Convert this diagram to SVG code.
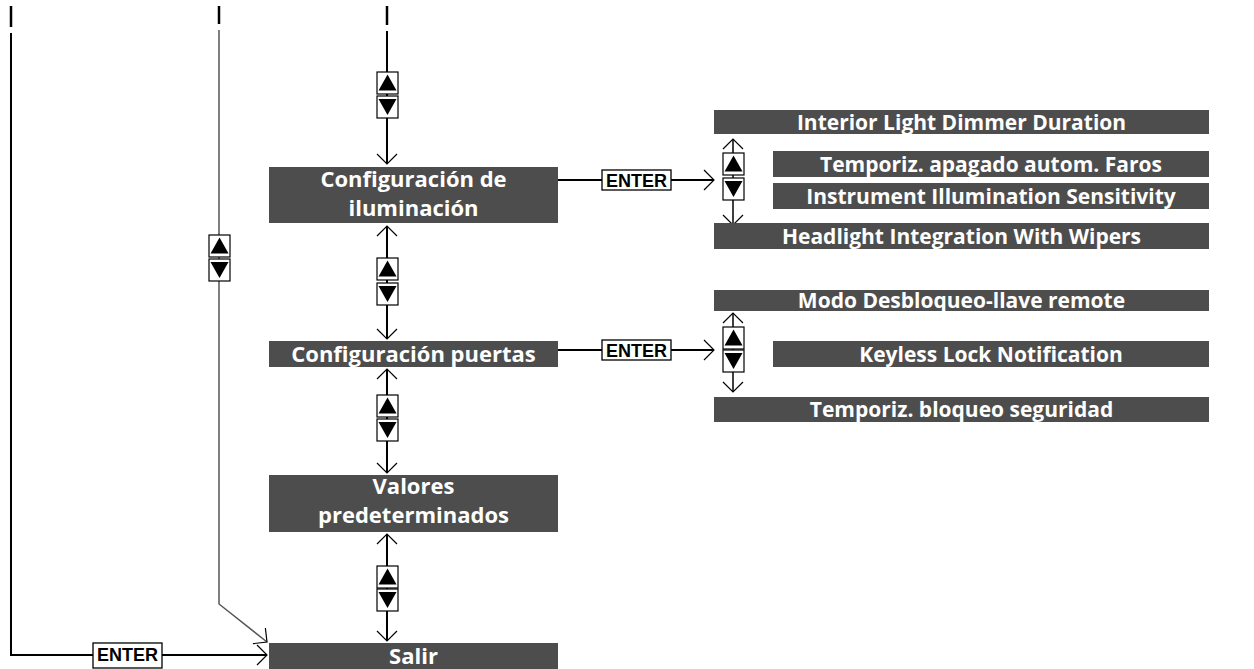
<svg xmlns="http://www.w3.org/2000/svg" width="1254" height="669" viewBox="0 0 1254 669">
<style>
.box{fill:#4d4d4d}
.lbl{font-family:"Open Sans","Noto Sans",sans-serif;font-weight:bold;font-size:22px;fill:#fff;text-anchor:middle}
.lr{font-size:21px}
.ent{fill:#fff;stroke:#000;stroke-width:1.3}
.entt{font-family:"Liberation Sans",Arial,sans-serif;font-weight:bold;font-size:18px;fill:#000;text-anchor:middle}
.ln{fill:none;stroke:#000;stroke-width:2}
.gl{fill:none;stroke:#555;stroke-width:1.5}
.stub{stroke:#000;stroke-width:2.5}
</style>
<defs>
<marker id="ah" markerUnits="userSpaceOnUse" markerWidth="24" markerHeight="24" viewBox="-12 -12 24 24" refX="0" refY="0" orient="auto-start-reverse">
<path d="M-10,-10 L0,0 L-10,10" fill="none" stroke="#000" stroke-width="1.2"/>
</marker>
<g id="up"><rect x="0" y="0" width="21" height="22" fill="#fff" stroke="#000" stroke-width="1.2"/><polygon points="1.5,18.5 19.5,18.5 10.5,2.5" fill="#000"/></g>
<g id="dn"><rect x="0" y="0" width="21" height="22" fill="#fff" stroke="#000" stroke-width="1.2"/><polygon points="1.5,3 19.5,3 10.5,19" fill="#000"/></g>
</defs>

<g id="connectors">
<line class="stub" x1="11" y1="6" x2="11" y2="27"/>
<line class="stub" x1="219" y1="6" x2="219" y2="24"/>
<line class="stub" x1="387" y1="6" x2="387" y2="25"/>
<path class="ln" d="M11,33 L11,655 L93,655"/>
<path class="ln" d="M162,655 L267,655" marker-end="url(#ah)"/>
<path class="gl" d="M219,30 L219,604 L267,642" marker-end="url(#ah)"/>
<path class="ln" d="M387,31 L387,164" marker-end="url(#ah)"/>
<path class="ln" d="M387,226 L387,339" marker-start="url(#ah)" marker-end="url(#ah)"/>
<path class="ln" d="M387,369 L387,473" marker-start="url(#ah)" marker-end="url(#ah)"/>
<path class="ln" d="M387,534 L387,641" marker-start="url(#ah)" marker-end="url(#ah)"/>
<path class="ln" d="M558,180 L602,180"/>
<path class="ln" d="M671,180 L714,180" marker-end="url(#ah)"/>
<path class="ln" d="M558,350 L602,350"/>
<path class="ln" d="M671,350 L714,350" marker-end="url(#ah)"/>
<path class="ln" style="stroke-width:1.5" d="M733,139 L733,225" marker-start="url(#ah)" marker-end="url(#ah)"/>
<path class="ln" style="stroke-width:1.5" d="M733,313 L733,392" marker-start="url(#ah)" marker-end="url(#ah)"/>
<use href="#up" x="377" y="72"/><use href="#dn" x="377" y="96"/>
<use href="#up" x="377" y="258"/><use href="#dn" x="377" y="283"/>
<use href="#up" x="377" y="395"/><use href="#dn" x="377" y="419"/>
<use href="#up" x="377" y="566"/><use href="#dn" x="377" y="589"/>
<use href="#up" x="209" y="235"/><use href="#dn" x="209" y="259"/>
<use href="#up" x="723" y="153"/><use href="#dn" x="723" y="178"/>
<use href="#up" x="723" y="327"/><use href="#dn" x="723" y="350"/>
<rect class="ent" x="602" y="170" width="69" height="20"/><text class="entt" x="636.5" y="186.5">ENTER</text>
<rect class="ent" x="602" y="340" width="69" height="20"/><text class="entt" x="636.5" y="356.5">ENTER</text>
<rect class="ent" x="93" y="643" width="69" height="25"/><text class="entt" x="127.5" y="661">ENTER</text>
</g>

<g id="n-ilum"><rect class="box" x="269" y="167" width="289" height="56"/><text class="lbl" x="413.5" y="187">Configuración de</text><text class="lbl" x="413.5" y="216">iluminación</text></g>
<g id="n-puertas"><rect class="box" x="269" y="341" width="289" height="26"/><text class="lbl" x="413.5" y="362">Configuración puertas</text></g>
<g id="n-valores"><rect class="box" x="269" y="475" width="289" height="57"/><text class="lbl" x="413.5" y="494">Valores</text><text class="lbl" x="413.5" y="523">predeterminados</text></g>
<g id="n-salir"><rect class="box" x="269" y="643" width="289" height="26"/><text class="lbl" x="413.5" y="664">Salir</text></g>

<g id="n-interior"><rect class="box" x="714" y="110" width="495" height="24"/><text class="lbl lr" x="961.5" y="130">Interior Light Dimmer Duration</text></g>
<g id="n-temporiz"><rect class="box" x="773" y="151" width="436" height="26"/><text class="lbl lr" x="991" y="171.5">Temporiz. apagado autom. Faros</text></g>
<g id="n-instrument"><rect class="box" x="773" y="183" width="436" height="26"/><text class="lbl lr" x="991" y="203.5">Instrument Illumination Sensitivity</text></g>
<g id="n-headlight"><rect class="box" x="714" y="223" width="495" height="26"/><text class="lbl lr" x="961.5" y="243.5">Headlight Integration With Wipers</text></g>
<g id="n-modo"><rect class="box" x="714" y="290" width="495" height="21"/><text class="lbl lr" x="961.5" y="307.5">Modo Desbloqueo-llave remote</text></g>
<g id="n-keyless"><rect class="box" x="773" y="341" width="436" height="26"/><text class="lbl lr" x="991" y="361.5">Keyless Lock Notification</text></g>
<g id="n-bloqueo"><rect class="box" x="714" y="397" width="495" height="25"/><text class="lbl lr" x="961.5" y="417">Temporiz. bloqueo seguridad</text></g>
</svg>
